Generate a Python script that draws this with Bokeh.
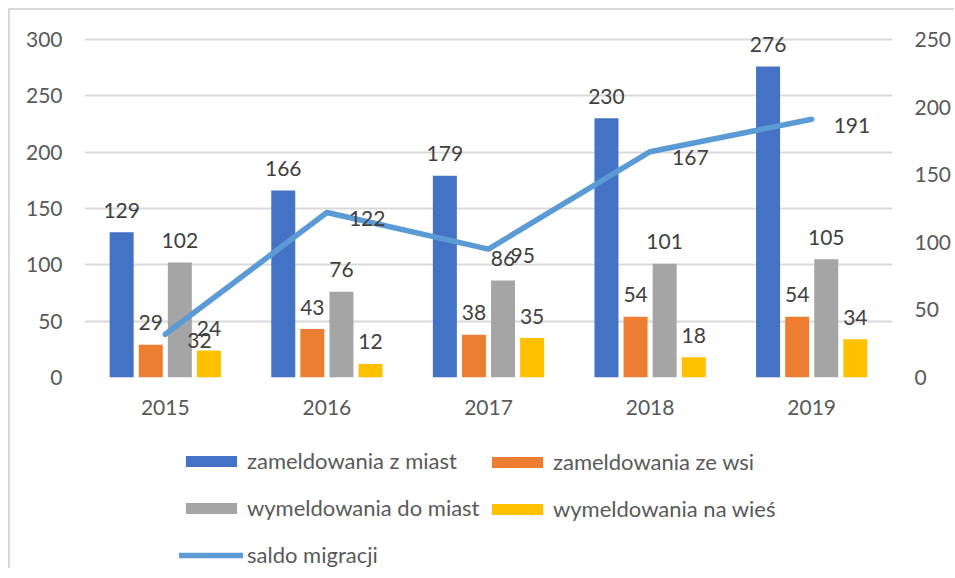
from bokeh.plotting import figure
from bokeh.layouts import column
from bokeh.models import (ColumnDataSource, FactorRange, Range1d, LinearAxis, Legend,
                          LegendItem, FixedTicker, LabelSet)
from bokeh.transform import dodge
from bokeh.core.properties import value
from bokeh.embed import file_html
from bokeh.resources import INLINE

years = ["2015", "2016", "2017", "2018", "2019"]
zameldowania_z_miast = [129, 166, 179, 230, 276]
zameldowania_ze_wsi = [29, 43, 38, 54, 54]
wymeldowania_do_miast = [102, 76, 86, 101, 105]
wymeldowania_na_wies = [24, 12, 35, 18, 34]
saldo_migracji = [32, 122, 95, 167, 191]

left_ticks = [0, 50, 100, 150, 200, 250, 300]
right_ticks = [0, 50, 100, 150, 200, 250]
LEFT_MAX = 300
RIGHT_MAX = 250

series = [
    ("zameldowania z miast", "#4472C4", -0.27),
    ("zameldowania ze wsi", "#ED7D31", -0.09),
    ("wymeldowania do miast", "#A5A5A5", 0.09),
    ("wymeldowania na wieś", "#FFC000", 0.27),
]
LINE_NAME = "saldo migracji"
LINE_COLOR = "#5B9BD5"

FONT = "Lato"
TICK_COLOR = "#595959"
LABEL_COLOR = "#404040"

# plot area: 338 px for the axis span, plus headroom so top data labels are not clipped
AXIS_H = 338
HEAD = 16
scale = (AXIS_H + HEAD) / AXIS_H

p = figure(x_range=FactorRange(*years), y_range=Range1d(0, LEFT_MAX * scale),
           frame_width=808, frame_height=AXIS_H + HEAD,
           output_backend="svg", toolbar_location=None,
           min_border_left=74, min_border_right=56, min_border_top=29 - HEAD,
           min_border_bottom=55)
p.outline_line_color = None
p.background_fill_color = "white"
p.border_fill_color = "white"

p.extra_y_ranges = {"right": Range1d(0, RIGHT_MAX * scale)}

src = ColumnDataSource(dict(
    year=years,
    a=zameldowania_z_miast, b=zameldowania_ze_wsi,
    c=wymeldowania_do_miast, d=wymeldowania_na_wies,
    s=saldo_migracji,
))
keys = ["a", "b", "c", "d"]

for (name, color, off), key in zip(series, keys):
    p.vbar(x=dodge("year", off, range=p.x_range), top=key, width=0.1485,
           source=src, fill_color=color, line_color=None)
    lbl = LabelSet(x=dodge("year", off, range=p.x_range), y=key, text=key, source=src,
                   text_align="center", text_baseline="middle", y_offset=22,
                   text_font=value(FONT), text_font_size="21px", text_color=LABEL_COLOR)
    p.add_layout(lbl)

p.line(x="year", y="s", source=src, y_range_name="right",
       line_color=LINE_COLOR, line_width=5.5, line_cap="round", line_join="round")
lbl = LabelSet(x="year", y="s", text="s", source=src, y_range_name="right",
               text_align="left", text_baseline="middle", x_offset=22, y_offset=-6,
               text_font=value(FONT), text_font_size="21px", text_color=LABEL_COLOR)
p.add_layout(lbl)

# axes
p.yaxis.ticker = FixedTicker(ticks=left_ticks)
ax_right = LinearAxis(y_range_name="right", ticker=FixedTicker(ticks=right_ticks))
p.add_layout(ax_right, "right")

for ax in [p.yaxis[0], ax_right, p.xaxis[0]]:
    ax.axis_line_color = None
    ax.major_tick_line_color = None
    ax.minor_tick_line_color = None
    ax.major_tick_out = 0
    ax.major_tick_in = 0
    ax.minor_tick_out = 0
    ax.minor_tick_in = 0
    ax.major_label_text_font = FONT
    ax.major_label_text_font_size = "21px"
    ax.major_label_text_color = TICK_COLOR
    ax.major_label_standoff = 22

p.xgrid.grid_line_color = None
p.ygrid.grid_line_color = "#D9D9D9"
p.ygrid.grid_line_width = 2

# legend panel (separate figure below the chart)
lg = figure(width=940, height=136, x_range=Range1d(0, 1), y_range=Range1d(0, 1),
            output_backend="svg", toolbar_location=None,
            min_border_left=0, min_border_right=0, min_border_top=0, min_border_bottom=0)
lg.axis.visible = False
lg.grid.grid_line_color = None
lg.outline_line_color = None

# legend-only renderers with degenerate (invisible) geometry
leg_items = {}
for name, color, off in series:
    r = lg.vbar(x=[0.5], bottom=[0.5], top=[0.5], width=0, fill_color=color,
                line_color=None)
    leg_items[name] = LegendItem(label=name, renderers=[r])
rl = lg.line(x=[0.5], y=[0.5], line_color=LINE_COLOR, line_width=5.5,
             line_cap="round")
leg_items[LINE_NAME] = LegendItem(label=LINE_NAME, renderers=[rl])

col1 = [leg_items[series[0][0]], leg_items[series[2][0]], leg_items[LINE_NAME]]
col2 = [leg_items[series[1][0]], leg_items[series[3][0]]]

common = dict(label_text_font=FONT, label_text_font_size="22px",
              label_text_color=TICK_COLOR, glyph_width=64, glyph_height=14,
              label_height=26, label_standoff=4, spacing=20, padding=0, margin=0,
              border_line_color=None, background_fill_alpha=0)
leg1 = Legend(items=col1, orientation="vertical", location=(95, 0), **common)
leg2 = Legend(items=col2, orientation="vertical", location=(401, 46), **common)
lg.add_layout(leg1, "center")
lg.add_layout(leg2, "center")

layout = column(p, lg, spacing=0)
layout.styles = {"margin-left": "8px", "margin-top": "8px",
                 "border-left": "2px solid #D9D9D9", "border-top": "2px solid #D9D9D9"}

open("out.html", "w").write(file_html(layout, INLINE))
